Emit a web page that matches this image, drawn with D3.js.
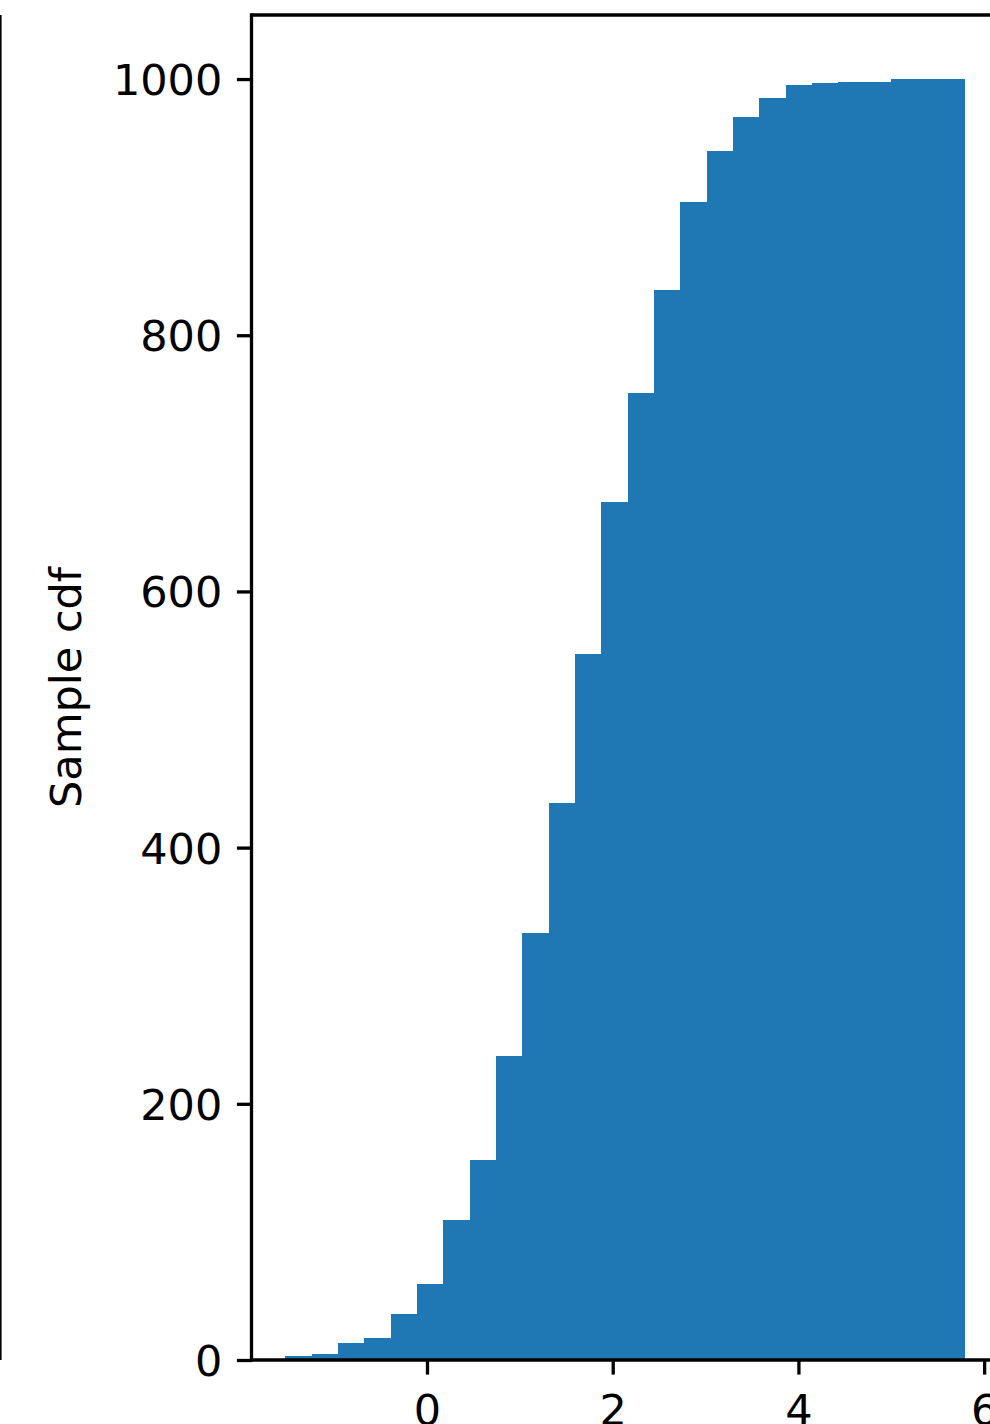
<!DOCTYPE html>
<html>
<head>
<meta charset="utf-8">
<script src="https://cdn.jsdelivr.net/npm/d3@7"></script>
<style>
  html, body { margin: 0; padding: 0; background: #ffffff; }
  svg { display: block; }
  text { font-family: "DejaVu Sans", sans-serif; fill: #000; }
</style>
</head>
<body>
<svg id="chart" width="990" height="1424"></svg>
<script>
// Histogram bin edges (x units)
const binEdges = [-1.526, -1.243, -0.959, -0.675, -0.392, -0.108, 0.176, 0.459, 0.743,
  1.026, 1.310, 1.594, 1.877, 2.160, 2.445, 2.728, 3.011, 3.296, 3.579, 3.862,
  4.146, 4.430, 4.713, 4.997, 5.281, 5.564, 5.779];
// Cumulative counts per bin
const cumCounts = [3, 5, 13, 17, 36, 59, 109, 156, 237, 333, 435, 551, 670, 755, 835,
  904, 944, 970, 985, 995, 997, 998, 998, 1000, 1000, 1000];
const xTicks = [0, 2, 4, 6];
const yTicks = [0, 200, 400, 600, 800, 1000];
const yLabel = "Sample cdf";

const svg = d3.select("#chart");
const L = 251.5, R = 997.6, T = 15, B = 1360;
const FS = 43, tickLen = 14.6, pad = 14.6, lw = 3.3;

const x = d3.scaleLinear().domain([-1.89, 6.145]).range([L, R]);
const y = d3.scaleLinear().domain([0, 1050]).range([B, T]);

const bars = cumCounts.map((c, i) => ({x0: binEdges[i], x1: binEdges[i + 1], v: c}));

svg.append("g").attr("shape-rendering", "crispEdges")
  .selectAll("rect").data(bars).join("rect")
  .attr("x", d => Math.round(x(d.x0)))
  .attr("width", d => Math.round(x(d.x1)) - Math.round(x(d.x0)) + 1)
  .attr("y", d => y(d.v))
  .attr("height", d => y(0) - y(d.v))
  .attr("fill", "#1f77b4");

// neighbouring subplot's right spine (partially visible at the far left)
svg.append("line").attr("x1", 0.8).attr("x2", 0.8).attr("y1", T).attr("y2", B)
  .attr("stroke", "#000").attr("stroke-width", 1.6);

// x axis
const xAxis = d3.axisBottom(x).tickValues(xTicks).tickSize(tickLen).tickPadding(pad)
  .tickFormat(d3.format("d"));
const gx = svg.append("g").attr("transform", `translate(0,${B})`).call(xAxis);
gx.select(".domain").remove();
gx.selectAll(".tick line").attr("stroke", "#000").attr("stroke-width", lw);
gx.selectAll(".tick text").attr("font-size", FS).attr("dy", null).attr("y", tickLen + pad - 4)
  .attr("dominant-baseline", "text-before-edge").style("font-family", "DejaVu Sans");

// y axis
const yAxis = d3.axisLeft(y).tickValues(yTicks).tickSize(tickLen).tickPadding(pad)
  .tickFormat(d3.format("d"));
const gy = svg.append("g").attr("transform", `translate(${L},0)`).call(yAxis);
gy.select(".domain").remove();
gy.selectAll(".tick line").attr("stroke", "#000").attr("stroke-width", lw);
gy.selectAll(".tick text").attr("font-size", FS).attr("dy", "0.36em")
  .style("font-family", "DejaVu Sans");

// spines
const sp = svg.append("g").attr("stroke", "#000").attr("stroke-width", lw).attr("fill", "none");
sp.append("line").attr("x1", L).attr("x2", L).attr("y1", T - lw / 2).attr("y2", B + lw / 2);
sp.append("line").attr("x1", L).attr("x2", R).attr("y1", B).attr("y2", B);
sp.append("line").attr("x1", L).attr("x2", R).attr("y1", T).attr("y2", T);
sp.append("line").attr("x1", R).attr("x2", R).attr("y1", T).attr("y2", B);

// y label
svg.append("text")
  .attr("transform", `translate(81,${(T + B) / 2}) rotate(-90)`)
  .attr("text-anchor", "middle")
  .attr("font-size", FS)
  .text(yLabel);
</script>
</body>
</html>
